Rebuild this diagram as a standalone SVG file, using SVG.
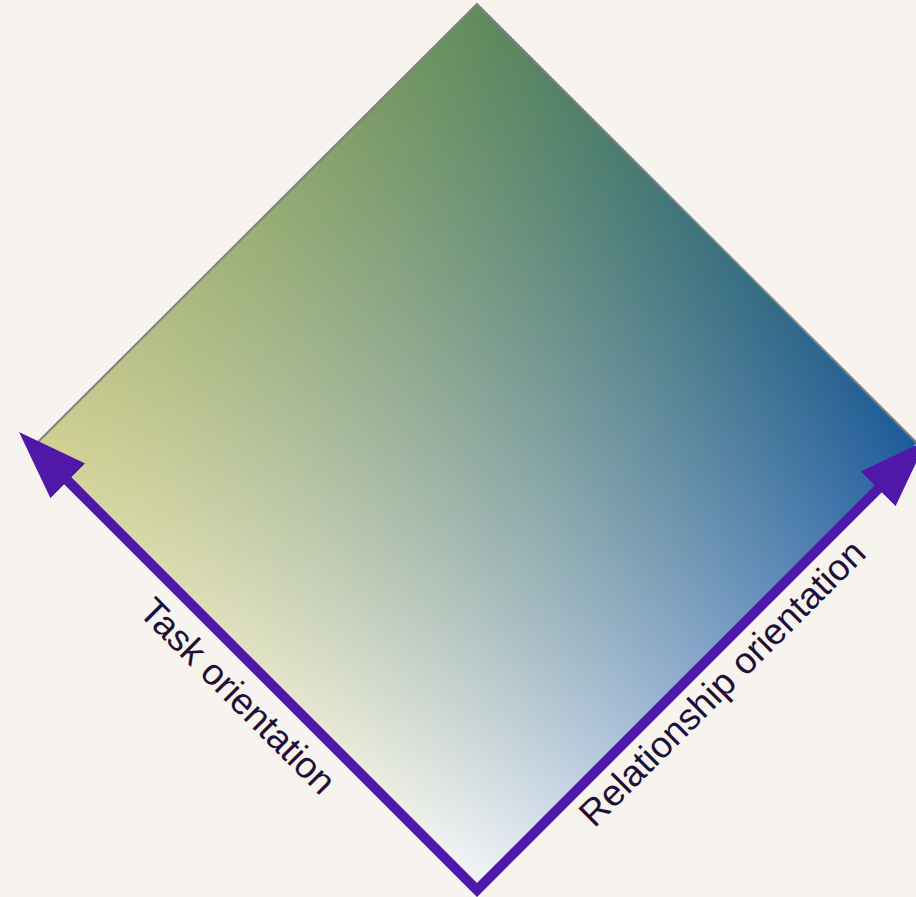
<svg xmlns="http://www.w3.org/2000/svg" width="916" height="897" viewBox="0 0 916 897">
<style>
.lbl{font-family:"Liberation Sans",Arial,sans-serif;font-size:37px;fill:#1e1038;text-anchor:middle}
.axis{fill:none;stroke:#5018a8;stroke-width:10;stroke-linejoin:miter}
.edge{stroke:#808080;stroke-width:2;fill:none}
</style>
<defs>
<linearGradient id="gu1" gradientUnits="userSpaceOnUse" x1="477" y1="888" x2="34.5" y2="445.5">
<stop offset="0" stop-color="#f4f6f9"/>
<stop offset="1" stop-color="#d2d192"/>
</linearGradient>
<linearGradient id="gu2" gradientUnits="userSpaceOnUse" x1="477" y1="888" x2="34.5" y2="445.5">
<stop offset="0" stop-color="#1c5a9c"/>
<stop offset="1" stop-color="#608b5a"/>
</linearGradient>
<linearGradient id="gv" gradientUnits="userSpaceOnUse" x1="477" y1="888" x2="919.5" y2="445.5">
<stop offset="0" stop-color="#fff" stop-opacity="0"/>
<stop offset="1" stop-color="#fff" stop-opacity="1"/>
</linearGradient>
<mask id="mv" maskUnits="userSpaceOnUse" x="0" y="0" width="916" height="897" style="mask-type:alpha">
<rect width="916" height="897" fill="url(#gv)"/>
</mask>
<marker id="arr" markerUnits="userSpaceOnUse" markerWidth="72" markerHeight="52" viewBox="-2 -26 72 52" refX="0" refY="0" orient="auto-start-reverse">
<path d="M-2,-24.5 L67,0 L-2,24.5 Z" fill="#5018a8"/>
</marker>
</defs>
<rect width="916" height="897" fill="#f7f4f0"/>
<g id="diamond">
<polygon points="477,4 917,443 477,888 37,443" fill="url(#gu1)"/>
<polygon points="477,4 917,443 477,888 37,443" fill="url(#gu2)" mask="url(#mv)"/>
<polyline class="edge" points="37,443 477,4 917,443"/>
</g>
<g id="connectors">
<path class="axis" d="M66.4,479.4 L477,890 L879.6,487.4" marker-start="url(#arr)" marker-end="url(#arr)"/>
</g>
<g id="task-label">
<text class="lbl" x="229" y="705" transform="rotate(45 229 705)">Task orientation</text>
</g>
<g id="relationship-label">
<text class="lbl" x="731" y="692" transform="rotate(-45 731 692)">Relationship orientation</text>
</g>
</svg>
